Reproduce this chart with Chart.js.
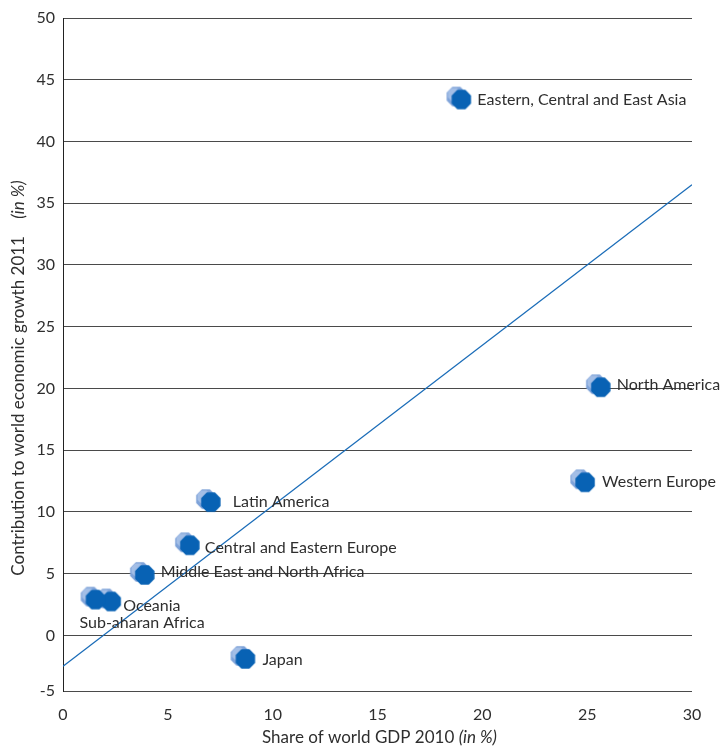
<!DOCTYPE html>
<html lang="en">
  <head>
    <title>Share of world GDP vs contribution to growth</title>
    <meta charset="utf-8">
    <script src="https://cdn.jsdelivr.net/npm/chart.js@4/dist/chart.umd.min.js"></script>
    <style>
      html, body { margin: 0; padding: 0; background: #fff; }
      #wrap { position: relative; width: 726px; height: 747px; }
    </style>
  </head>
  <body>
    <div id="wrap"><canvas id="myChart1"></canvas></div>
  </body>
  <script>
    // regions
    var regions = ['Eastern, Central and East Asia', 'North America', 'Western Europe', 'Latin America',
                   'Central and Eastern Europe', 'Middle East and North Africa', 'Oceania',
                   'Sub-aharan Africa', 'Japan'];
    // share of world GDP 2010 (%)
    var gdpShare = [19.0, 25.65, 24.9, 7.05, 6.05, 3.9, 2.3, 1.55, 8.7];
    // contribution to world growth 2011 (%)
    var growthContrib = [43.4, 20.1, 12.4, 10.8, 7.3, 4.9, 2.75, 2.9, -1.9];
    // fitted line
    var trendX = [0, 30];
    var trendY = [-2.5, 36.5];
    var yTicks = [-4.5, 0, 5, 10, 15, 20, 25, 30, 35, 40, 45, 50];
    var xTicks = [0, 5, 10, 15, 20, 25, 30];

    var FONT = 'Lato, "Noto Sans", sans-serif';
    var TEXT = '#2e2e2e';

    // octagon marker with a pale copy behind it
    function octagon(ctx, cx, cy, r) {
        ctx.beginPath();
        for (var k = 0; k < 8; k++) {
            var a = Math.PI / 8 + k * Math.PI / 4;
            var px = cx + r * Math.cos(a), py = cy + r * Math.sin(a);
            if (k === 0) ctx.moveTo(px, py); else ctx.lineTo(px, py);
        }
        ctx.closePath();
    }
    var marker = document.createElement('canvas');
    marker.width = 40; marker.height = 34;
    (function () {
        var c = marker.getContext('2d');
        octagon(c, 15, 14, 10.5);
        c.fillStyle = '#7ea3d9';
        c.fill();
        octagon(c, 13, 12, 7);
        c.fillStyle = '#a3bee6';
        c.fill();
        octagon(c, 20, 17, 10.5);
        c.fillStyle = '#0862b4';
        c.fill();
    })();

    // where each name sits relative to its marker
    var labelOffset = [[16, 0], [16, -2], [17, 0], [22, 0], [15, 3], [16, -3], [12, 4], [-16, 23], [17, 1]];

    var pointLabels = {
        id: 'pointLabels',
        afterDatasetsDraw: function (chart) {
            var ctx = chart.ctx, meta = chart.getDatasetMeta(1);
            ctx.save();
            ctx.font = '16px ' + FONT;
            ctx.fillStyle = TEXT;
            ctx.textBaseline = 'middle';
            ctx.textAlign = 'left';
            meta.data.forEach(function (pt, i) {
                ctx.fillText(regions[i], pt.x + labelOffset[i][0], pt.y + labelOffset[i][1]);
            });
            ctx.restore();
        }
    };

    // axis titles with an italic unit part
    function mixedText(ctx, parts, x, y) {
        var total = 0;
        parts.forEach(function (p) { ctx.font = p[1] + FONT; total += ctx.measureText(p[0]).width; });
        var cur = x - total / 2;
        parts.forEach(function (p) {
            ctx.font = p[1] + FONT;
            ctx.fillText(p[0], cur, y);
            cur += ctx.measureText(p[0]).width;
        });
    }
    var axisTitles = {
        id: 'axisTitles',
        afterDraw: function (chart) {
            var ctx = chart.ctx, area = chart.chartArea;
            ctx.save();
            ctx.fillStyle = TEXT;
            ctx.textBaseline = 'middle';
            ctx.textAlign = 'left';
            mixedText(ctx, [['Share of world GDP 2010 ', '17px '], ['(in %)', 'italic 17px ']],
                      (area.left + area.right) / 2 + 2, 738);
            ctx.translate(19, 378);
            ctx.rotate(-Math.PI / 2);
            mixedText(ctx, [['Contribution to world economic growth 2011    ', '17px '], ['(in %)', 'italic 17px ']], 0, 0);
            ctx.restore();
        }
    };

    var ctx = document.getElementById('myChart1').getContext('2d');
    var myChart1 = new Chart(ctx, {
        type: 'scatter',
        data: {
            datasets: [{
                type: 'line',
                data: trendX.map(function (x, i) { return { x: x, y: trendY[i] }; }),
                borderColor: '#1a6cb8',
                borderWidth: 1.4,
                pointRadius: 0,
                fill: false
            }, {
                data: gdpShare.map(function (x, i) { return { x: x, y: growthContrib[i] }; }),
                pointStyle: marker,
                pointRadius: 10,
                pointHoverRadius: 10
            }]
        },
        options: {
            responsive: true,
            maintainAspectRatio: false,
            animation: false,
            layout: { padding: { left: 0, right: 34, top: 18, bottom: 0 } },
            plugins: { legend: { display: false }, tooltip: { enabled: false } },
            scales: {
                x: {
                    type: 'linear',
                    min: 0, max: 30,
                    afterBuildTicks: function (s) { s.ticks = xTicks.map(function (v) { return { value: v }; }); },
                    afterFit: function (s) { s.height = 56; },
                    grid: { display: false, drawTicks: false },
                    border: { display: false },
                    ticks: { color: TEXT, font: { family: FONT, size: 16 }, padding: 14, maxRotation: 0 }
                },
                y: {
                    type: 'linear',
                    min: -4.5, max: 50,
                    afterBuildTicks: function (s) { s.ticks = yTicks.map(function (v) { return { value: v }; }); },
                    afterFit: function (s) { s.width = 63; },
                    grid: { color: '#4a4a4a', lineWidth: 1, drawTicks: false },
                    border: { display: true, color: '#222', width: 1 },
                    ticks: {
                        color: TEXT, font: { family: FONT, size: 16 }, padding: 8,
                        callback: function (v) { return v === -4.5 ? '-5' : v; }
                    }
                }
            }
        },
        plugins: [pointLabels, axisTitles]
    });
  </script>
</html>
